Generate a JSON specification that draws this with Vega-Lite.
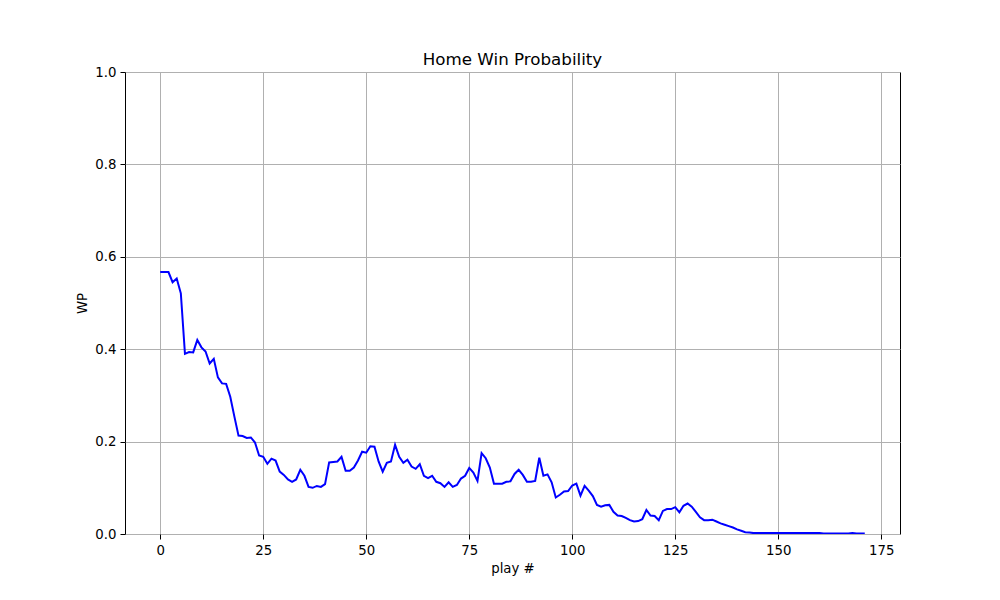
{
  "$schema": "https://vega.github.io/schema/vega-lite/v6.json",
  "autosize": {"type": "none"},
  "padding": {"left": 125, "top": 72, "right": 100, "bottom": 66},
  "width": 775,
  "height": 462,
  "background": "white",
  "title": {
    "text": "Home Win Probability",
    "font": "DejaVu Sans",
    "fontSize": 16.7,
    "fontWeight": "normal",
    "color": "black",
    "anchor": "middle",
    "offset": -4
  },
  "data": {
    "values": [
      {"play": 0, "wp": 0.567}, {"play": 1, "wp": 0.567}, {"play": 2, "wp": 0.567}, {"play": 3, "wp": 0.545},
      {"play": 4, "wp": 0.553}, {"play": 5, "wp": 0.521}, {"play": 6, "wp": 0.390}, {"play": 7, "wp": 0.394},
      {"play": 8, "wp": 0.393}, {"play": 9, "wp": 0.420}, {"play": 10, "wp": 0.404}, {"play": 11, "wp": 0.395},
      {"play": 12, "wp": 0.369}, {"play": 13, "wp": 0.379}, {"play": 14, "wp": 0.339}, {"play": 15, "wp": 0.326},
      {"play": 16, "wp": 0.325}, {"play": 17, "wp": 0.297}, {"play": 18, "wp": 0.254}, {"play": 19, "wp": 0.213},
      {"play": 20, "wp": 0.212}, {"play": 21, "wp": 0.208}, {"play": 22, "wp": 0.209}, {"play": 23, "wp": 0.198},
      {"play": 24, "wp": 0.170}, {"play": 25, "wp": 0.167}, {"play": 26, "wp": 0.152}, {"play": 27, "wp": 0.163},
      {"play": 28, "wp": 0.159}, {"play": 29, "wp": 0.135}, {"play": 30, "wp": 0.128}, {"play": 31, "wp": 0.118},
      {"play": 32, "wp": 0.113}, {"play": 33, "wp": 0.118}, {"play": 34, "wp": 0.139}, {"play": 35, "wp": 0.126},
      {"play": 36, "wp": 0.102}, {"play": 37, "wp": 0.100}, {"play": 38, "wp": 0.104}, {"play": 39, "wp": 0.102},
      {"play": 40, "wp": 0.108}, {"play": 41, "wp": 0.155}, {"play": 42, "wp": 0.156}, {"play": 43, "wp": 0.157},
      {"play": 44, "wp": 0.167}, {"play": 45, "wp": 0.137}, {"play": 46, "wp": 0.137}, {"play": 47, "wp": 0.144},
      {"play": 48, "wp": 0.159}, {"play": 49, "wp": 0.178}, {"play": 50, "wp": 0.176}, {"play": 51, "wp": 0.190},
      {"play": 52, "wp": 0.189}, {"play": 53, "wp": 0.157}, {"play": 54, "wp": 0.135}, {"play": 55, "wp": 0.154},
      {"play": 56, "wp": 0.157}, {"play": 57, "wp": 0.193}, {"play": 58, "wp": 0.167}, {"play": 59, "wp": 0.154},
      {"play": 60, "wp": 0.161}, {"play": 61, "wp": 0.146}, {"play": 62, "wp": 0.141}, {"play": 63, "wp": 0.151},
      {"play": 64, "wp": 0.126}, {"play": 65, "wp": 0.121}, {"play": 66, "wp": 0.126}, {"play": 67, "wp": 0.113},
      {"play": 68, "wp": 0.110}, {"play": 69, "wp": 0.102}, {"play": 70, "wp": 0.112}, {"play": 71, "wp": 0.102},
      {"play": 72, "wp": 0.106}, {"play": 73, "wp": 0.120}, {"play": 74, "wp": 0.126}, {"play": 75, "wp": 0.143},
      {"play": 76, "wp": 0.133}, {"play": 77, "wp": 0.115}, {"play": 78, "wp": 0.175}, {"play": 79, "wp": 0.164},
      {"play": 80, "wp": 0.144}, {"play": 81, "wp": 0.109}, {"play": 82, "wp": 0.109}, {"play": 83, "wp": 0.109},
      {"play": 84, "wp": 0.113}, {"play": 85, "wp": 0.114}, {"play": 86, "wp": 0.130}, {"play": 87, "wp": 0.139},
      {"play": 88, "wp": 0.128}, {"play": 89, "wp": 0.113}, {"play": 90, "wp": 0.113}, {"play": 91, "wp": 0.115},
      {"play": 92, "wp": 0.165}, {"play": 93, "wp": 0.126}, {"play": 94, "wp": 0.129}, {"play": 95, "wp": 0.112},
      {"play": 96, "wp": 0.079}, {"play": 97, "wp": 0.085}, {"play": 98, "wp": 0.092}, {"play": 99, "wp": 0.093},
      {"play": 100, "wp": 0.105}, {"play": 101, "wp": 0.109}, {"play": 102, "wp": 0.083}, {"play": 103, "wp": 0.104},
      {"play": 104, "wp": 0.094}, {"play": 105, "wp": 0.082}, {"play": 106, "wp": 0.063}, {"play": 107, "wp": 0.059},
      {"play": 108, "wp": 0.062}, {"play": 109, "wp": 0.063}, {"play": 110, "wp": 0.048}, {"play": 111, "wp": 0.040},
      {"play": 112, "wp": 0.039}, {"play": 113, "wp": 0.035}, {"play": 114, "wp": 0.030}, {"play": 115, "wp": 0.027},
      {"play": 116, "wp": 0.028}, {"play": 117, "wp": 0.032}, {"play": 118, "wp": 0.052}, {"play": 119, "wp": 0.040},
      {"play": 120, "wp": 0.039}, {"play": 121, "wp": 0.030}, {"play": 122, "wp": 0.050}, {"play": 123, "wp": 0.054},
      {"play": 124, "wp": 0.054}, {"play": 125, "wp": 0.058}, {"play": 126, "wp": 0.047}, {"play": 127, "wp": 0.061},
      {"play": 128, "wp": 0.066}, {"play": 129, "wp": 0.059}, {"play": 130, "wp": 0.048}, {"play": 131, "wp": 0.036},
      {"play": 132, "wp": 0.030}, {"play": 133, "wp": 0.030}, {"play": 134, "wp": 0.031}, {"play": 135, "wp": 0.027},
      {"play": 136, "wp": 0.023}, {"play": 137, "wp": 0.020}, {"play": 138, "wp": 0.017}, {"play": 139, "wp": 0.014},
      {"play": 140, "wp": 0.010}, {"play": 141, "wp": 0.007}, {"play": 142, "wp": 0.004}, {"play": 143, "wp": 0.003},
      {"play": 144, "wp": 0.002}, {"play": 145, "wp": 0.002}, {"play": 146, "wp": 0.002}, {"play": 147, "wp": 0.002},
      {"play": 148, "wp": 0.002}, {"play": 149, "wp": 0.002}, {"play": 150, "wp": 0.002}, {"play": 151, "wp": 0.002},
      {"play": 152, "wp": 0.002}, {"play": 153, "wp": 0.002}, {"play": 154, "wp": 0.002}, {"play": 155, "wp": 0.002},
      {"play": 156, "wp": 0.002}, {"play": 157, "wp": 0.002}, {"play": 158, "wp": 0.002}, {"play": 159, "wp": 0.002},
      {"play": 160, "wp": 0.002}, {"play": 161, "wp": 0.001}, {"play": 162, "wp": 0.001}, {"play": 163, "wp": 0.001},
      {"play": 164, "wp": 0.001}, {"play": 165, "wp": 0.001}, {"play": 166, "wp": 0.001}, {"play": 167, "wp": 0.001},
      {"play": 168, "wp": 0.002}, {"play": 169, "wp": 0.001}, {"play": 170, "wp": 0.001}, {"play": 171, "wp": 0.001}
    ]
  },
  "mark": {"type": "line", "color": "#0000ff", "strokeWidth": 2, "clip": true},
  "encoding": {
    "x": {
      "field": "play",
      "type": "quantitative",
      "title": "play #",
      "scale": {"domain": [-8.55, 179.55], "nice": false, "zero": false},
      "axis": {"values": [0, 25, 50, 75, 100, 125, 150, 175], "format": "d"}
    },
    "y": {
      "field": "wp",
      "type": "quantitative",
      "title": "WP",
      "scale": {"domain": [0, 1], "nice": false},
      "axis": {"values": [0, 0.2, 0.4, 0.6, 0.8, 1.0], "format": ".1f"}
    }
  },
  "config": {
    "view": {"stroke": "black", "strokeWidth": 1},
    "axis": {
      "domain": false,
      "grid": true,
      "gridColor": "#b0b0b0",
      "gridWidth": 1,
      "gridOpacity": 1,
      "ticks": true,
      "tickColor": "black",
      "tickSize": 5,
      "tickWidth": 1,
      "labelFont": "DejaVu Sans",
      "labelFontSize": 13.3,
      "labelColor": "black",
      "labelPadding": 4,
      "titleFont": "DejaVu Sans",
      "titleFontSize": 13.3,
      "titleFontWeight": "normal",
      "titleColor": "black",
      "titlePadding": 5
    }
  }
}
